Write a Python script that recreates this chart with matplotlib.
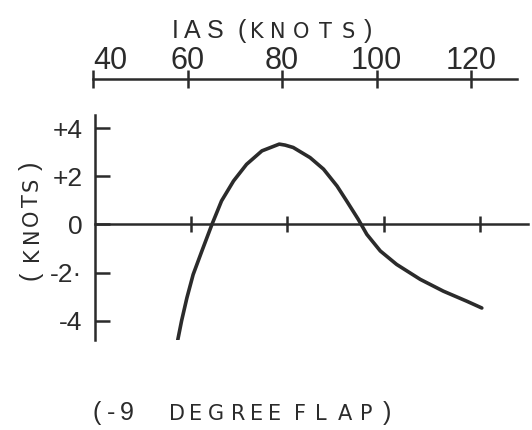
import matplotlib
matplotlib.use("Agg")
import matplotlib.pyplot as plt

# ---- data ----
ias = [57.2, 58.0, 59.1, 60.4, 62.2, 64.3, 66.3, 68.8, 71.5, 74.7, 78.3, 79.5,
       81.2, 84.7, 87.5, 90.3, 92.3, 94.7, 96.5, 99.3, 102.7, 107.6, 112.4, 117.3, 120.4]
err = [-4.8, -4.0, -3.05, -2.08, -1.11, 0.0, 0.98, 1.81, 2.5, 3.06, 3.34, 3.3,
       3.2, 2.78, 2.3, 1.6, 0.98, 0.22, -0.41, -1.1, -1.66, -2.28, -2.77, -3.19, -3.47]
top_ticks = [40, 60, 80, 100, 120]
top_labels = ["40", "60", "80", "100", "120"]
zero_ticks = [60, 80, 100, 120]
y_ticks = [-4, -2, 0, 2, 4]
y_labels = ["-4", "-2·", "0", "+2", "+4"]

INK = "#2b2b2b"
FONT = ["Liberation Sans", "DejaVu Sans"]
SMALL = ["DejaVu Sans"]
plt.rcParams["font.family"] = FONT

W, H = 532, 430
fig = plt.figure(figsize=(W / 100, H / 100), dpi=100)
fig.patch.set_facecolor("white")

def fx(px):
    return px / W

def fy(py):
    return 1 - py / H

# ---- main axes ----
ax = fig.add_axes([fx(95), fy(340), 433 / W, 225 / H])
ax.set_xlim(40, 130)
ax.set_ylim(-4.8, 4.55)
ax.patch.set_alpha(0)
for s in ("top", "right"):
    ax.spines[s].set_visible(False)
ax.spines["left"].set_linewidth(1.8)
ax.spines["left"].set_color(INK)
ax.spines["bottom"].set_position(("data", 0))
ax.spines["bottom"].set_linewidth(1.8)
ax.spines["bottom"].set_color(INK)

ax.set_xticks(zero_ticks)
ax.tick_params(axis="x", direction="inout", length=12, width=1.8, color=INK,
               labelbottom=False)
ax.set_yticks(y_ticks)
ax.set_yticklabels(y_labels)
ax.tick_params(axis="y", direction="in", length=11, width=1.8, color=INK,
               labelsize=19, labelcolor=INK, pad=9)

ax.plot(ias, err, color=INK, lw=2.6, solid_capstyle="round", solid_joinstyle="round")

# ---- top IAS axis ----
ax2 = fig.add_axes([fx(93), fy(80), 424 / W, 0.002])
ax2.set_xlim(40, 129.7)
ax2.patch.set_alpha(0)
for s in ("bottom", "left", "right"):
    ax2.spines[s].set_visible(False)
ax2.spines["top"].set_linewidth(1.8)
ax2.spines["top"].set_color(INK)
ax2.set_yticks([])
ax2.xaxis.tick_top()
ax2.set_xticks(top_ticks)
ax2.set_xticklabels(top_labels)
ax2.tick_params(axis="x", direction="inout", length=13, width=1.8, color=INK,
                labelsize=22, labelcolor=INK, pad=-4)
ax2.get_xticklabels()[0].set_horizontalalignment("left")

# ---- hand-lettered texts (letter by letter for the wide spacing) ----
def letters(chars, centers, base, size, rot=0, family=None):
    fam = family if family else FONT
    for ch, c in zip(chars, centers):
        if rot == 0:
            fig.text(fx(c), fy(base), ch, ha="center", va="baseline",
                     fontsize=size, color=INK, family=fam)
        else:
            fig.text(fx(base), fy(c), ch, ha="center", va="baseline",
                     rotation=90, rotation_mode="anchor", fontsize=size,
                     color=INK, family=fam)

# IAS (KNOTS)
letters("IAS", [175.5, 192.5, 215.5], 38, 18)
letters("(", [242], 38, 18)
letters("KNOTS", [257, 278, 301, 325, 348], 38, 15, family=SMALL)
letters(")", [368], 38, 18)

# (KNOTS) rotated
letters("(", [276], 38, 18, rot=90)
letters("KNOTS", [254, 235, 218, 201, 184], 38, 15, rot=90, family=SMALL)
letters(")", [166], 38, 18, rot=90)

# (-9 DEGREE FLAP)
letters("(-9", [97, 111, 127], 420, 18)
letters("DEGREE", [177, 196, 216, 238, 257, 275], 420, 15, family=SMALL)
letters("FLAP", [300, 321, 345, 366], 420, 15, family=SMALL)
letters(")", [387], 420, 18)

fig.savefig("out.png", dpi=100, facecolor="white")
